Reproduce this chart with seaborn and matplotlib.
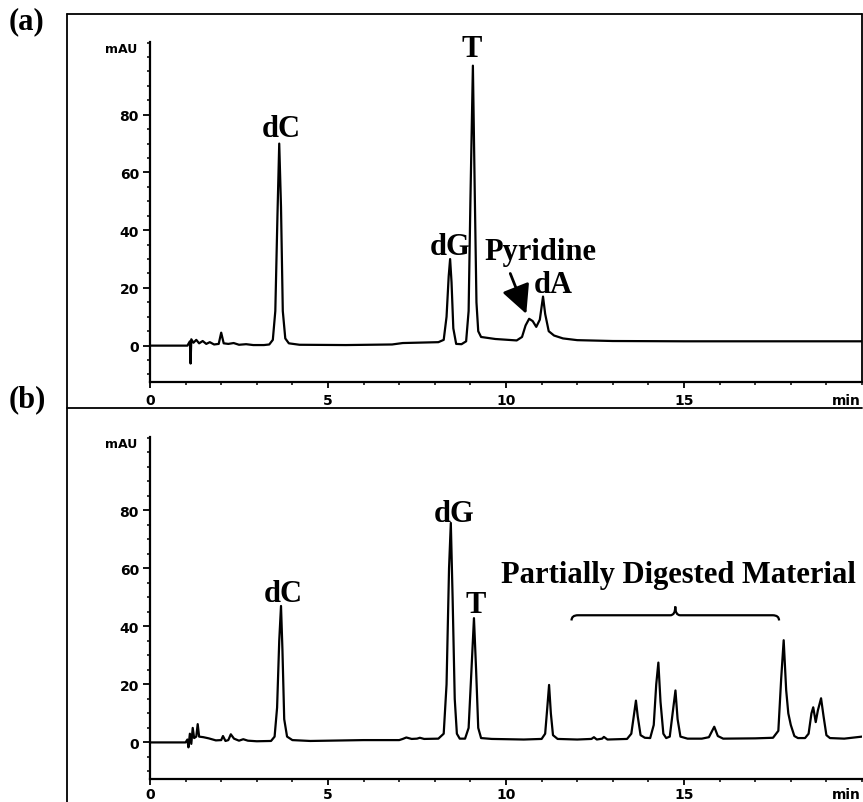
import numpy as np
import pandas as pd
import seaborn as sns
import matplotlib.pyplot as plt
from matplotlib.lines import Line2D
from matplotlib.path import Path
from matplotlib.patches import PathPatch
from matplotlib.ticker import MultipleLocator, FixedLocator
import matplotlib.transforms as mtransforms

tiempo_a = [0, 1.05, 1.12, 1.14, 1.16, 1.22, 1.3, 1.38, 1.48, 1.58, 1.68, 1.8, 1.93, 2.0, 2.07,
            2.2, 2.35, 2.5, 2.7, 2.9, 3.2, 3.35, 3.45, 3.52, 3.58, 3.63, 3.68, 3.73, 3.8, 3.9,
            4.2, 5.5, 6.8, 7.1, 8.1, 8.25, 8.33, 8.39, 8.43, 8.47, 8.52, 8.6, 8.75, 8.88, 8.95,
            9.0, 9.07, 9.12, 9.17, 9.22, 9.3, 9.7, 10.3, 10.45, 10.55, 10.65, 10.75, 10.85,
            10.95, 11.04, 11.1, 11.2, 11.35, 11.6, 12.0, 13.0, 15.0, 17.0, 20.0]
senal_a = [0, 0, 1.5, -6.2, 2.2, 1.0, 2.0, 0.8, 1.6, 0.6, 1.2, 0.4, 0.6, 4.5, 0.8,
           0.6, 0.9, 0.3, 0.5, 0.2, 0.2, 0.4, 2.0, 12, 45, 70, 48, 12, 2.5, 0.8,
           0.3, 0.2, 0.4, 0.9, 1.2, 2.0, 10, 24, 30, 22, 6, 0.6, 0.5, 1.5, 12,
           50, 97, 55, 15, 5.0, 3.0, 2.3, 1.8, 3.0, 7.0, 9.3, 8.5, 6.5,
           9.0, 17.0, 11, 5.0, 3.5, 2.5, 1.9, 1.6, 1.5, 1.5, 1.5]

tiempo_b = [0, 1.0, 1.05, 1.08, 1.12, 1.16, 1.2, 1.24, 1.3, 1.34, 1.38, 1.5, 1.65, 1.85, 2.0,
            2.05, 2.12, 2.2, 2.27, 2.36, 2.5, 2.62, 2.75, 3.0, 3.4, 3.5, 3.57, 3.63, 3.68, 3.72,
            3.77, 3.85, 4.0, 4.5, 6.0, 7.0, 7.1, 7.2, 7.35, 7.5, 7.58, 7.7, 8.1, 8.25, 8.33,
            8.4, 8.45, 8.5, 8.56, 8.62, 8.7, 8.85, 8.95, 9.03, 9.1, 9.16, 9.22, 9.3, 9.6, 10.5,
            11.0, 11.1, 11.16, 11.21, 11.26, 11.32, 11.45, 12.0, 12.4, 12.47, 12.55, 12.7, 12.75,
            12.85, 13.4, 13.52, 13.6, 13.65, 13.7, 13.78, 13.9, 14.05, 14.15, 14.22, 14.28, 14.34,
            14.42, 14.5, 14.6, 14.68, 14.76, 14.82, 14.9, 15.1, 15.5, 15.7, 15.85, 15.95, 16.1,
            17.0, 17.5, 17.65, 17.73, 17.8, 17.87, 17.93, 18.0, 18.1, 18.2, 18.4, 18.5, 18.58,
            18.63, 18.7, 18.76, 18.85, 18.92, 19.0, 19.1, 19.5, 20.0]
senal_b = [0, 0, 1.0, -1.7, 3.0, -0.5, 5.0, 1.5, 2.0, 6.3, 2.0, 1.8, 1.4, 0.7, 0.8,
           2.2, 0.5, 0.8, 2.8, 1.3, 0.6, 1.1, 0.6, 0.4, 0.5, 2.0, 12, 35, 47, 32,
           8, 2.0, 0.8, 0.5, 0.8, 0.8, 1.2, 1.7, 1.2, 1.3, 1.6, 1.2, 1.3, 3.0, 20,
           60, 75.6, 50, 15, 3.0, 1.3, 1.3, 5.0, 25, 42.8, 25, 5.0, 1.5, 1.2, 1.0,
           1.2, 3.0, 12, 19.8, 10, 2.5, 1.2, 1.0, 1.2, 1.8, 1.0, 1.3, 1.9,
           1.0, 1.2, 3.0, 10, 14.4, 9.0, 2.5, 1.6, 1.5, 6.0, 20, 27.5, 14,
           3.0, 1.5, 2.0, 10, 17.9, 8.0, 2.0, 1.3, 1.3, 1.8, 5.4, 2.2, 1.3,
           1.4, 1.6, 4.0, 22, 35.2, 18, 10, 6.0, 2.2, 1.5, 1.5, 3.0, 10,
           12.1, 7.0, 11, 15.2, 9.0, 2.5, 1.5, 1.3, 2.0]

# etiquetas de picos: (texto, tiempo, mAU de la linea base del texto)
picos_a = [("dC", 3.68, 72.7), ("dG", 8.43, 31.8), ("T", 9.05, 100.3),
           ("Pyridine", 10.98, 30.1), ("dA", 11.33, 18.7)]
picos_b = [("dC", 3.74, 48.6), ("dG", 8.54, 76.2), ("T", 9.16, 44.8)]

flecha_desde = (10.12, 25.0)
flecha_hasta = (10.57, 11.0)
llave_ini, llave_fin, llave_y = 11.84, 17.67, 43.8
texto_llave = "Partially Digested Material"

sns.set_style("ticks")
plt.rcParams["font.family"] = ["DejaVu Sans"]
for k in ["text.color", "axes.labelcolor", "xtick.color", "ytick.color", "axes.edgecolor"]:
    plt.rcParams[k] = "black"

W, H = 863, 803
fig = plt.figure(figsize=(W / 100, H / 100), dpi=100)

serif = dict(family="Liberation Serif", weight="bold", size=22, color="black")


def eje(ax, df, pad_x):
    sns.lineplot(data=df, x="t", y="mAU", ax=ax, color="black", lw=1.6,
                 sort=False, estimator=None)
    ax.set_xlim(0, 20)
    ax.set_ylim(-12.6, 105.2)
    ax.set_xlabel("")
    ax.set_ylabel("")
    for s in ["top", "right"]:
        ax.spines[s].set_visible(False)
    for s in ["left", "bottom"]:
        ax.spines[s].set_linewidth(1.6)
    ax.yaxis.set_major_locator(FixedLocator([0, 20, 40, 60, 80]))
    ax.yaxis.set_minor_locator(FixedLocator([-10, -5, 5, 10, 15, 25, 30, 35, 45, 50, 55,
                                             65, 70, 75, 85, 90, 95, 100, 105]))
    ax.xaxis.set_major_locator(FixedLocator([0, 5, 10, 15]))
    ax.xaxis.set_minor_locator(MultipleLocator(1))
    ax.tick_params(axis="y", which="major", length=5, width=1.3, pad=3, direction="out")
    ax.tick_params(axis="y", which="minor", length=2.5, width=1.1, direction="out")
    ax.tick_params(axis="x", which="major", length=4, width=1.3, pad=pad_x, direction="out")
    ax.tick_params(axis="x", which="minor", length=2.5, width=1.1, direction="out")
    for lab in ax.get_xticklabels() + ax.get_yticklabels():
        lab.set_fontweight("bold")
        lab.set_fontsize(10)
    tr = mtransforms.blended_transform_factory(ax.transAxes, ax.transData)
    ax.text(-0.018, 103, "mAU", transform=tr, ha="right", va="center",
            fontsize=9, fontweight="bold")
    # "min" en lugar del rotulo 20, pegado al borde derecho
    ax.annotate("min", xy=(1.0, 0), xycoords="axes fraction",
                xytext=(-1, -(4 + pad_x) * 1.39), textcoords="offset pixels",
                ha="right", va="top", fontsize=10, fontweight="bold")


ax_a = fig.add_axes([150 / W, 1 - 383 / H, 712 / W, 340 / H])
ax_b = fig.add_axes([150 / W, 1 - 780 / H, 712 / W, 342 / H])

eje(ax_a, pd.DataFrame({"t": tiempo_a, "mAU": senal_a}), 4)
eje(ax_b, pd.DataFrame({"t": tiempo_b, "mAU": senal_b}), 1.5)

for txt, x, y in picos_a:
    ax_a.text(x, y, txt, ha="center", va="baseline", clip_on=False, **serif)
for txt, x, y in picos_b:
    ax_b.text(x, y, txt, ha="center", va="baseline", clip_on=False, **serif)

ax_a.annotate("", xy=flecha_hasta, xytext=flecha_desde,
              arrowprops=dict(arrowstyle="-|>,head_length=0.8,head_width=0.4",
                              lw=2, color="black", mutation_scale=22,
                              shrinkA=0, shrinkB=0))

# llave sobre el material parcialmente digerido
xm = (llave_ini + llave_fin) / 2
verts = [(llave_ini, llave_y - 1.8), (llave_ini, llave_y), (llave_ini + 0.18, llave_y),
         (xm - 0.14, llave_y), (xm, llave_y), (xm, llave_y + 3.0),
         (xm, llave_y), (xm + 0.14, llave_y),
         (llave_fin - 0.18, llave_y), (llave_fin, llave_y), (llave_fin, llave_y - 1.8)]
codes = [Path.MOVETO, Path.CURVE3, Path.CURVE3,
         Path.LINETO, Path.CURVE3, Path.CURVE3,
         Path.CURVE3, Path.CURVE3,
         Path.LINETO, Path.CURVE3, Path.CURVE3]
ax_b.add_patch(PathPatch(Path(verts, codes), fill=False, lw=1.6, color="black"))
ax_b.text(14.85, 55.2, texto_llave, ha="center", va="baseline", clip_on=False, **serif)

# marcos de los paneles
x0, xr = 67 / W, 861.5 / W
ytop, ysep = 1 - 15 / H, 1 - 409 / H
marco = dict(color="black", lw=1.3, transform=fig.transFigure)
fig.add_artist(Line2D([x0, xr], [ytop, ytop], **marco))
fig.add_artist(Line2D([x0, x0], [ytop, 0], **marco))
fig.add_artist(Line2D([xr, xr], [ytop, 1 - 383 / H], **marco))
fig.add_artist(Line2D([x0, xr], [ysep, ysep], **marco))

fig.text(26 / W, 1 - 22 / H, "(a)", ha="center", va="center", **serif)
fig.text(27 / W, 1 - 400 / H, "(b)", ha="center", va="center", **serif)

fig.savefig("out.png", dpi=100)
